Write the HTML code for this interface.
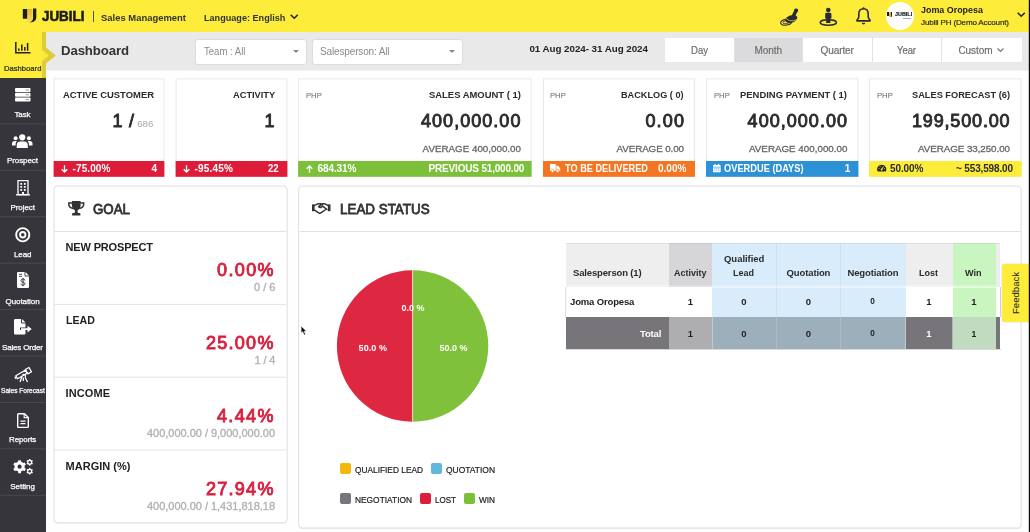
<!DOCTYPE html>
<html><head><meta charset="utf-8">
<style>
*{box-sizing:border-box;margin:0;padding:0}
html,body{width:1030px;height:532px;overflow:hidden;background:#fefefe;font-family:"Liberation Sans",sans-serif;color:#2a2a2a}
.a{position:absolute}
svg{position:absolute;overflow:visible}
.t{position:absolute;white-space:pre;line-height:1}
.card{position:absolute;top:78px;height:99px;background:#fff;border:1px solid #ededf0}
.ft{position:absolute;top:161px;height:16px}
.panel{position:absolute;background:#fff;border:1px solid #dedee2;border-radius:4px;box-shadow:0 1px 1px rgba(0,0,0,.06)}
.sel{position:absolute;top:39px;height:25.500px;background:#fff;border:1px solid #dcdcdc;border-radius:3px}
.car{position:absolute;width:0;height:0;border-left:3px solid transparent;border-right:3px solid transparent;border-top:3.500px solid #888}
.btn{position:absolute;top:38px;height:24px;background:#fff}
.hl{position:absolute;height:1px;background:#e3e3e6}
.sep{position:absolute;left:0;width:46px;height:1px;background:#43424a}
.lg{position:absolute;width:11px;height:11px;border-radius:2px}
.c{position:absolute}
</style></head><body>
<div class="a" style="left:46px;top:31px;width:984px;height:40px;background:#f3f3f3"></div><div class="a" style="left:46px;top:31px;width:984px;height:39px;background:#e9e9e9"></div>
<div class="a" style="left:0;top:0;width:1030px;height:31.500px;background:#fdec3a"></div>
<div class="a" style="left:0;top:31px;width:46px;height:501px;background:#36353b"></div>
<!-- active nav -->
<div class="a" style="left:0;top:31px;width:46px;height:46.500px;background:#fdec3a"></div>
<div class="a" style="left:42px;top:31.500px;width:4px;height:46px;background:#dccc35"></div>
<svg style="left:41px;top:47px" width="16" height="17" viewBox="41 47 16 17"><path d="M46 47.600l9.800 7.900-9.800 8.100z" fill="#dccc35"/><path d="M41.800 49.600l7 5.900-7 5.900z" fill="#fae93a"/></svg>
<!-- sidebar separators -->
<svg style="left:0;top:0" width="46" height="532" viewBox="0 0 46 532"><path d="M0 123.86h46M0 170.29h46M0 216.72h46M0 263.15h46M0 309.58h46M0 356.01h46M0 402.44h46M0 448.87h46M0 495.30h46" stroke="#4a4950" stroke-width="1" fill="none"/></svg>

<!-- logo -->
<svg style="left:22px;top:8px" width="15" height="15" viewBox="0 0 15 15"><defs><linearGradient id="g" x1="0" y1="0" x2="0" y2="1"><stop offset="0" stop-color="#e9b030"/><stop offset="1" stop-color="#f6dc5a"/></linearGradient></defs><rect x="0.800" y="1" width="4.600" height="9.800" rx="0.600" fill="#1d1d24"/><path d="M5.400 1h5v9.500a3.500 3.500 0 0 1-3.500 3.500h-3.500c1.500-.5 2-1.500 2-3z" fill="url(#g)"/><path d="M11 .6h3.300v9a4.600 4.600 0 0 1-4.600 4.600h-2.500c2.800-.6 3.800-2 3.800-4.500z" fill="#1d1d24"/></svg>
<div class="a" style="left:92.500px;top:11px;width:1px;height:10.500px;background:#555"></div>
<svg style="left:289.500px;top:14.200px" width="8.500" height="5.500" viewBox="0 0 8.500 5.500"><path d="M0.700 0.700l3.550 3.600 3.550-3.600" fill="none" stroke="#222" stroke-width="1.500"/></svg>
<svg style="left:1017px;top:11.700px" width="8.500" height="5.500" viewBox="0 0 8.500 5.500"><path d="M0.700 0.700l3.550 3.600 3.550-3.600" fill="none" stroke="#222" stroke-width="1.500"/></svg>
<!-- stamp -->
<svg style="left:780px;top:8px" width="19" height="18" viewBox="0 0 19 18"><ellipse cx="6.200" cy="14.200" rx="5.600" ry="2.900" fill="none" stroke="#2a2a33" stroke-width="1.100" transform="rotate(-10 6.200 14.200)"/><ellipse cx="6.200" cy="14.200" rx="3.400" ry="1.500" fill="none" stroke="#2a2a33" stroke-width="0.800" transform="rotate(-10 6.200 14.200)"/><circle cx="16.100" cy="2.500" r="2" fill="#2a2a33"/><path d="M16.100 2.500l-3 6" stroke="#2a2a33" stroke-width="3.400" stroke-linecap="round"/><ellipse cx="11.300" cy="10.900" rx="6.200" ry="3.700" fill="#2a2a33" transform="rotate(-18 11.300 10.900)"/><path d="M6 10.300c2.300 2.600 6.500 3.300 10.600 1.200" fill="none" stroke="#fdec3a" stroke-width="0.700"/></svg>
<!-- person pin -->
<svg style="left:818.500px;top:7px" width="19" height="19" viewBox="0 0 19 19"><ellipse cx="9.300" cy="15.500" rx="8.200" ry="2.700" fill="none" stroke="#2a2a33" stroke-width="1.400"/><circle cx="9.300" cy="3" r="2.300" fill="#2a2a33"/><path d="M6.200 7.200a1.400 1.400 0 0 1 1.400-1.400h3.400a1.400 1.400 0 0 1 1.400 1.400v4.300h-1v4.500h-4.200v-4.500h-1z" fill="#2a2a33"/></svg>
<!-- bell -->
<svg style="left:855.500px;top:7px" width="15" height="18.500" viewBox="0 0 15 18.500"><path d="M7.500 1.800c-3 0-4.700 2.300-4.700 5.200v2.800c0 1.300-.7 2.200-1.800 3.200v.9h13v-.9c-1.100-1-1.800-1.900-1.800-3.200v-2.800c0-2.900-1.700-5.200-4.700-5.200z" fill="none" stroke="#2a2a33" stroke-width="1.600" stroke-linejoin="round"/><circle cx="7.500" cy="1.200" r="1" fill="#2a2a33"/><path d="M5.800 15.800h3.400a1.700 1.700 0 0 1-3.400 0z" fill="#2a2a33"/></svg>
<!-- avatar -->
<div class="a" style="left:885.500px;top:1.500px;width:28px;height:28px;border-radius:50%;background:#fff"></div>
<div class="a" style="left:887px;top:11.800px;width:1.900px;height:4.400px;background:#1d1d24"></div>
<div class="a" style="left:889px;top:11.800px;width:1.800px;height:5.700px;background:#e8b634;border-radius:0 0 0 1px"></div>
<div class="a" style="left:890.900px;top:11.600px;width:1.600px;height:5.900px;background:#1d1d24;border-radius:0 0 1.500px 0"></div>
<div class="a" style="left:903.300px;top:18.200px;width:8.200px;height:0.900px;background:#aaa"></div>

<!-- header controls -->
<div class="sel" style="left:195px;width:111.500px"><div class="car" style="left:97px;top:9.500px"></div></div>
<div class="sel" style="left:312px;width:150.500px"><div class="car" style="left:136px;top:9.500px"></div></div>
<div class="btn" style="left:665px;width:356.500px"></div>
<div class="btn" style="left:734px;width:68px;background:#dbdbdd"></div>
<div class="a" style="left:733.500px;top:38px;width:1px;height:24px;background:#e2e2e2"></div>
<div class="a" style="left:802px;top:38px;width:1px;height:24px;background:#e2e2e2"></div>
<div class="a" style="left:872px;top:38px;width:1px;height:24px;background:#e2e2e2"></div>
<div class="a" style="left:941px;top:38px;width:1px;height:24px;background:#e2e2e2"></div>
<svg style="left:997.200px;top:48px" width="7" height="4.500" viewBox="0 0 7 4.500"><path d="M0.500 0.500l3 3 3-3" fill="none" stroke="#777" stroke-width="1.200"/></svg>

<!-- nav icons -->
<svg style="left:15px;top:42px" width="15.500" height="12" viewBox="0 0 15.500 12"><path d="M0.800 0v10.800h14.700" fill="none" stroke="#222" stroke-width="1.500"/><path d="M3.800 8.800V6.500M6.800 8.800V2.500M9.800 8.800V5M12.600 8.800V1" stroke="#222" stroke-width="1.500"/></svg>
<!-- task -->
<svg style="left:15px;top:87.500px" width="15.500" height="13.500" viewBox="0 0 15.500 13.500"><g fill="#fff"><rect x="0" y="0" width="15.500" height="3.900" rx="0.900"/><rect x="0" y="4.800" width="15.500" height="3.900" rx="0.900"/><rect x="0" y="9.600" width="15.500" height="3.900" rx="0.900"/></g><g fill="#9a9aa0"><rect x="10.500" y="1.500" width="3.500" height="1" /><rect x="10.500" y="6.300" width="3.500" height="1"/><rect x="10.500" y="11.100" width="3.500" height="1"/></g></svg>
<!-- prospect -->
<svg style="left:12px;top:133.500px" width="20.500" height="14" viewBox="0 0 20.500 14"><g fill="#fff"><circle cx="10.250" cy="3.300" r="3.100"/><path d="M4.700 14v-2.700a3.800 3.800 0 0 1 3.800-3.800h3.500a3.800 3.800 0 0 1 3.800 3.800V14z"/><circle cx="3.600" cy="4.200" r="2"/><circle cx="16.900" cy="4.200" r="2"/><path d="M0 11.500v-1.700a2.700 2.700 0 0 1 2.700-2.700h2.300c-.9.900-1.400 2-1.400 3.500v.9z"/><path d="M20.500 11.500v-1.700a2.700 2.700 0 0 0-2.700-2.700h-2.300c.9.900 1.400 2 1.400 3.500v.9z"/></g></svg>
<!-- project -->
<svg style="left:15.500px;top:179.500px" width="14" height="15.500" viewBox="0 0 14 15.500"><path d="M2 0.700h10v14h-10z" fill="none" stroke="#fff" stroke-width="1.300"/><path d="M0 14.800h14" stroke="#fff" stroke-width="1.300"/><g fill="#fff"><rect x="4.300" y="3" width="1.800" height="1.800"/><rect x="7.900" y="3" width="1.800" height="1.800"/><rect x="4.300" y="6" width="1.800" height="1.800"/><rect x="7.900" y="6" width="1.800" height="1.800"/><rect x="4.300" y="9" width="1.800" height="1.800"/><rect x="7.900" y="9" width="1.800" height="1.800"/><rect x="6" y="12" width="2" height="2.500"/></g></svg>
<!-- lead -->
<svg style="left:15px;top:226.500px" width="15.500" height="15.500" viewBox="0 0 15.500 15.500"><circle cx="7.750" cy="7.750" r="6.600" fill="none" stroke="#fff" stroke-width="1.900"/><circle cx="7.750" cy="7.750" r="2.700" fill="none" stroke="#fff" stroke-width="1.900"/></svg>
<!-- quotation -->
<svg style="left:17px;top:272px" width="12" height="16" viewBox="0 0 12 16"><path d="M0 1.200a1.200 1.200 0 0 1 1.200-1.200h6.300v3.300a1.200 1.200 0 0 0 1.200 1.200h3.300v10.300a1.200 1.200 0 0 1-1.200 1.200h-9.600a1.200 1.200 0 0 1-1.200-1.200z" fill="#fff"/><path d="M8.400 0l3.600 3.600h-3.600z" fill="#fff"/><path d="M2 2.300h3M2 4.300h3" stroke="#36353b" stroke-width="0.900"/><path d="M8 8.600c0-1-.9-1.600-2-1.600s-2 .6-2 1.600 1 1.300 2 1.500 2 .6 2 1.600-.9 1.600-2 1.600-2-.6-2-1.600M6 5.900v8.200" fill="none" stroke="#36353b" stroke-width="1"/></svg>
<!-- sales order -->
<svg style="left:14px;top:319px" width="18" height="15.500" viewBox="0 0 18 15.500"><path d="M0 1.200a1.200 1.200 0 0 1 1.200-1.200h5.800v3.300a1.200 1.200 0 0 0 1.200 1.200h3.300v4h-5.500v2.600h5.500v3.200a1.200 1.200 0 0 1-1.200 1.200h-9.100a1.200 1.200 0 0 1-1.200-1.200z" fill="#fff"/><path d="M8 0l3.500 3.500h-3.500z" fill="#fff"/><path d="M7 9.200h6.500v-2.400l4.200 3.300-4.200 3.300v-2.400h-6.500z" fill="#fff"/></svg>
<!-- telescope -->
<svg style="left:14px;top:367px" width="18" height="15.500" viewBox="0 0 18 15.500"><g fill="none" stroke="#fff" stroke-width="1.300" stroke-linejoin="round"><path d="M1.800 9.200l9.700-5.600 1.700 3-9.700 5.600z" transform="translate(0 -0.500)"/><path d="M11.300 2.500l3.700-2 2.500 4.300-3.700 2.100z"/><path d="M0.800 9.600l1.300 2.300"/><path d="M8.500 7.800c2-1.200 4 .8 2.600 2.500M8 9.500l-2 5.500M11 10.200l2.500 4.800M9.300 10.500v3.500"/></g></svg>
<!-- reports -->
<svg style="left:17px;top:412.500px" width="12" height="15" viewBox="0 0 12 15"><path d="M0.700 1.600a.9.900 0 0 1 .9-.9h5.900l3.800 3.800v9a.9.900 0 0 1-.9.900h-8.800a.9.900 0 0 1-.9-.9z" fill="none" stroke="#fff" stroke-width="1.400" stroke-linejoin="round"/><path d="M7.200 0.900v3.800h3.900" fill="none" stroke="#fff" stroke-width="1.200"/><path d="M3.500 8.200h5M3.500 10.600h5" stroke="#fff" stroke-width="1.300"/></svg>
<!-- settings -->
<svg style="left:12.500px;top:458.500px" width="20.500" height="15.500" viewBox="0 0 20.500 15.500"><g transform="translate(6.600 7.700)"><circle r="3.600" fill="none" stroke="#fff" stroke-width="3"/><g fill="#fff"><rect x="-1.400" y="-6.500" width="2.800" height="13" rx="0.500"/><rect x="-1.400" y="-6.500" width="2.800" height="13" rx="0.500" transform="rotate(60)"/><rect x="-1.400" y="-6.500" width="2.800" height="13" rx="0.500" transform="rotate(120)"/></g><circle r="2.100" fill="#36353b"/></g><g transform="translate(16.700 3.300)"><circle r="1.900" fill="none" stroke="#fff" stroke-width="1.300"/><g fill="#fff"><rect x="-0.700" y="-3.300" width="1.400" height="6.600"/><rect x="-0.700" y="-3.300" width="1.400" height="6.600" transform="rotate(60)"/><rect x="-0.700" y="-3.300" width="1.400" height="6.600" transform="rotate(120)"/></g><circle r="1.200" fill="#36353b"/></g><g transform="translate(16.700 12.200)"><circle r="1.900" fill="none" stroke="#fff" stroke-width="1.300"/><g fill="#fff"><rect x="-0.700" y="-3.300" width="1.400" height="6.600"/><rect x="-0.700" y="-3.300" width="1.400" height="6.600" transform="rotate(60)"/><rect x="-0.700" y="-3.300" width="1.400" height="6.600" transform="rotate(120)"/></g><circle r="1.200" fill="#36353b"/></g></svg>

<!-- cards -->
<svg style="left:0;top:0" width="1030" height="532" viewBox="0 0 1030 532"><rect x="54.1" y="78.9" width="109.8" height="97.400" fill="#fff" stroke="#e8e8ed" stroke-width="1"/><rect x="53.6" y="161" width="110.8" height="15.800" fill="#de1c3a"/><rect x="176.1" y="78.9" width="110.8" height="97.400" fill="#fff" stroke="#e8e8ed" stroke-width="1"/><rect x="175.6" y="161" width="111.8" height="15.800" fill="#de1c3a"/><rect x="298.6" y="78.9" width="232.5" height="97.400" fill="#fff" stroke="#e8e8ed" stroke-width="1"/><rect x="298.1" y="161" width="233.5" height="15.800" fill="#7cc03a"/><rect x="543.5" y="78.9" width="151.0" height="97.400" fill="#fff" stroke="#e8e8ed" stroke-width="1"/><rect x="543.0" y="161" width="152.0" height="15.800" fill="#f47522"/><rect x="706.5" y="78.9" width="151.4" height="97.400" fill="#fff" stroke="#e8e8ed" stroke-width="1"/><rect x="706.0" y="161" width="152.4" height="15.800" fill="#2d91d5"/><rect x="869.5" y="78.9" width="151.6" height="97.400" fill="#fff" stroke="#e8e8ed" stroke-width="1"/><rect x="869.0" y="161" width="152.6" height="15.800" fill="#fdec3a"/></svg>
<!-- footer icons -->
<svg style="left:61px;top:164.800px" width="7" height="8" viewBox="0 0 7 8"><path d="M3.500 0.300v6.500M0.700 4.200l2.800 2.800 2.800-2.800" fill="none" stroke="#fff" stroke-width="1.300"/></svg>
<svg style="left:183px;top:164.800px" width="7" height="8" viewBox="0 0 7 8"><path d="M3.500 0.300v6.500M0.700 4.200l2.800 2.800 2.800-2.800" fill="none" stroke="#fff" stroke-width="1.300"/></svg>
<svg style="left:306px;top:164.800px" width="7" height="8" viewBox="0 0 7 8"><path d="M3.500 7.700v-6.500M0.700 3.800l2.800-2.800 2.800 2.800" fill="none" stroke="#fff" stroke-width="1.300"/></svg>
<!-- truck -->
<svg style="left:550.400px;top:164.200px" width="10.200" height="8.600" viewBox="0 0 10.500 8" preserveAspectRatio="none"><path d="M0 0.600a.6.600 0 0 1 .6-.6h5.600v1.700h2l2.300 2.300v2.500h-10.500z" fill="#fff"/><circle cx="2.600" cy="6.500" r="1.500" fill="#fff" stroke="#f47522" stroke-width="0.600"/><circle cx="7.900" cy="6.500" r="1.500" fill="#fff" stroke="#f47522" stroke-width="0.600"/><path d="M6.200 0v6" stroke="#f47522" stroke-width="0.500"/></svg>
<!-- calendar -->
<svg style="left:713.200px;top:164.200px" width="7.700" height="8.300" viewBox="0 0 7.200 8.400" preserveAspectRatio="none"><rect x="0" y="1" width="7.200" height="7.400" rx="0.800" fill="#fff"/><rect x="1.400" y="0" width="1.100" height="2" fill="#fff"/><rect x="4.700" y="0" width="1.100" height="2" fill="#fff"/><path d="M0 3.200h7.200" stroke="#2d91d5" stroke-width="0.600"/><path d="M1.200 4.700h4.800M1.200 6.300h4.800" stroke="#2d91d5" stroke-width="0.700" stroke-dasharray="1 0.900"/></svg>
<!-- gauge -->
<svg style="left:876.800px;top:164.400px" width="9.400" height="8" viewBox="0 0 9.400 8"><path d="M0.700 7.500a4.600 4.600 0 1 1 8 0z" fill="#2b2b2b"/><path d="M4.700 5.500l1.800-3" stroke="#fdec3a" stroke-width="0.900"/><circle cx="4.700" cy="5.500" r="1" fill="#fdec3a"/><circle cx="2" cy="4.500" r="0.500" fill="#fdec3a"/><circle cx="3" cy="2.500" r="0.500" fill="#fdec3a"/><circle cx="7.400" cy="4.500" r="0.500" fill="#fdec3a"/></svg>

<!-- panels -->
<svg style="left:0;top:0" width="1030" height="532" viewBox="0 0 1030 532">
<rect x="54" y="187.200" width="233.200" height="336.600" rx="3.500" fill="#eeeef1"/>
<rect x="298.600" y="187.200" width="722.500" height="341.900" rx="3.500" fill="#eeeef1"/>
<rect x="54" y="186.100" width="233.200" height="336.600" rx="3.500" fill="#fff" stroke="#dfdfe4" stroke-width="1"/>
<rect x="298.600" y="186.100" width="722.500" height="341.900" rx="3.500" fill="#fff" stroke="#dfdfe4" stroke-width="1"/>
<g stroke="#e1e1e5" stroke-width="1"><path d="M54.600 231.500h231.800M54.600 304.400h231.800M54.600 377.200h231.800M54.600 450h231.800M299.400 231.500h721.200"/></g>
</svg>
<!-- trophy -->
<svg style="left:67.500px;top:201px" width="16.500" height="14.500" viewBox="0 0 16.500 14.500"><path d="M3.900 0h8.700v4c0 3.200-1.800 5.400-4.350 5.400s-4.350-2.200-4.350-5.400z" fill="#333"/><path d="M4.300 2.100h-3.500v1.200c0 2.100 1.700 3.700 4.400 4.100M12.200 2.100h3.500v1.200c0 2.100-1.700 3.700-4.400 4.100" fill="none" stroke="#333" stroke-width="1.500"/><path d="M6.900 8.500h2.700v2.700l1 1h-4.700l1-1z" fill="#333"/><path d="M4.100 14.500v-1.600a.8.800 0 0 1 .8-.8h6.700a.8.800 0 0 1 .8.800v1.600z" fill="#333"/></svg>
<!-- handshake -->
<svg style="left:312px;top:203px" width="18.500" height="10.500" viewBox="0 0 18.500 10.500"><rect x="0" y="1.400" width="2.600" height="6.800" fill="#333"/><rect x="15.900" y="1.400" width="2.600" height="6.800" fill="#333"/><g fill="none" stroke="#333" stroke-width="1.500" stroke-linejoin="round" stroke-linecap="round"><path d="M2.600 2.400l3.200-1.600h3.200l1.400.7M15.900 2.400l-3-1.600h-2.500l-3.800 2.800c.8 1 2 1 3 .2l1-.7 4.300 3.400M2.600 7.200l3.700 2.500c1 .7 2.100.6 2.900 0l5.200-3.700"/></g></svg>
<!-- pie -->
<svg style="left:336px;top:270px" width="153" height="153" viewBox="336 270 153 153"><path d="M412.600 270.300a75.700 75.700 0 0 0 0 151.400z" fill="#de2841"/><path d="M412.600 270.300a75.700 75.700 0 0 1 0 151.400z" fill="#80c13c"/><path d="M412.600 270.300v151.400" stroke="#f6ddd6" stroke-width="0.900"/></svg>
<!-- legend -->
<div class="lg" style="left:339.500px;top:462.600px;background:#f5b70e"></div>
<div class="lg" style="left:431px;top:462.600px;background:#62b8d8"></div>
<div class="lg" style="left:339.500px;top:493.200px;background:#77767b"></div>
<div class="lg" style="left:419.700px;top:493.200px;background:#dc1f3a"></div>
<div class="lg" style="left:464.200px;top:493.200px;background:#7cc03a"></div>
<!-- table cells -->
<div class="c" style="left:565.500px;top:243.400px;width:104px;height:44px;background:#eeeeef"></div>
<div class="c" style="left:669.200px;top:243.400px;width:43px;height:44px;background:#d6d5d7"></div>
<div class="c" style="left:712px;top:243.400px;width:193.600px;height:74px;background:#d8ecfc"></div>
<div class="c" style="left:905.600px;top:243.400px;width:47px;height:44px;background:#eeeeef"></div>
<div class="c" style="left:952.600px;top:243.400px;width:43px;height:74px;background:#c9f5c0"></div>
<div class="c" style="left:995.600px;top:243.400px;width:4.800px;height:44px;background:#eeeeef"></div>
<div class="c" style="left:999.600px;top:287px;width:0.800px;height:30px;background:#d0d0d0"></div>
<div class="c" style="left:565.500px;top:287px;width:430px;height:0.800px;background:rgba(255,255,255,.55)"></div>
<div class="c" style="left:565.500px;top:317.400px;width:103.700px;height:32px;background:#77757a"></div>
<div class="c" style="left:669.200px;top:317.400px;width:42.800px;height:32px;background:#aeadaf"></div>
<div class="c" style="left:712px;top:317.400px;width:193.600px;height:32px;background:#9eafbc"></div>
<div class="c" style="left:905.600px;top:317.400px;width:47px;height:32px;background:#77757a"></div>
<div class="c" style="left:952.600px;top:317.400px;width:43px;height:32px;background:#c0dbc0"></div>
<div class="c" style="left:995.600px;top:317.400px;width:4.800px;height:32px;background:#77757a"></div>
<div class="c" style="left:775.800px;top:243.400px;width:0.800px;height:106px;background:rgba(200,205,210,.38)"></div>
<div class="c" style="left:840.400px;top:243.400px;width:0.800px;height:106px;background:rgba(200,205,210,.38)"></div>
<div class="c" style="left:711.600px;top:317.400px;width:0.800px;height:32px;background:rgba(220,220,220,.6)"></div>
<div class="c" style="left:905.200px;top:317.400px;width:0.800px;height:32px;background:rgba(220,220,220,.6)"></div>
<div class="c" style="left:952.200px;top:317.400px;width:0.800px;height:32px;background:rgba(220,220,220,.6)"></div>
<div class="c" style="left:565.500px;top:349px;width:435px;height:1px;background:#d9d9d9"></div>
<div class="c" style="left:565px;top:287px;width:1px;height:30.400px;background:#dedede"></div>
<div class="c" style="left:565px;top:243px;width:435.400px;height:1px;background:rgba(0,0,0,.05)"></div>
<div class="c" style="left:565.500px;top:284.500px;width:430px;height:2.500px;background:rgba(255,255,255,.3)"></div>
<!-- feedback -->
<div class="a" style="left:1002px;top:263.600px;width:30px;height:58px;background:#fdec3a;border-radius:3px 0 0 3px;box-shadow:0 0 1.500px rgba(0,0,0,.25)"></div>
<div class="t" style="left:1015.800px;top:292.500px;font-size:9.600px;color:#222;transform:translate(-50%,-50%) rotate(-90deg);letter-spacing:0px">Feedback</div>
<svg style="left:1026px;top:0" width="4" height="532" viewBox="1026 0 4 532"><rect x="1028.800" y="0" width="1.400" height="532" fill="#0a0a0a"/></svg>
<!-- cursor -->
<svg style="left:301px;top:325.700px" width="6" height="11" viewBox="0 0 6 11"><path d="M0.200 0.200v6.900l1.600-1.500 1.400 3.400 1.200-.5-1.400-3.300h2.300z" fill="#111" stroke="#fff" stroke-width="0.350"/></svg>
<div style="position:absolute;left:0;top:0;width:1030px;height:532px;will-change:transform"><div class="t" style="left:42.30px;top:9.00px;font-size:14px;font-weight:bold;color:#1d1d24;letter-spacing:0.000px;transform:scaleX(0.9562);transform-origin:0 0;-webkit-text-stroke:0.6px #1d1d24;">JUBILI</div>
<div class="t" style="left:101.00px;top:12.60px;font-size:9.8px;font-weight:bold;color:#333;letter-spacing:0.000px;transform:scaleX(0.9635);transform-origin:0 0;">Sales Management</div>
<div class="t" style="left:203.60px;top:12.70px;font-size:9.6px;font-weight:bold;color:#333;letter-spacing:0.000px;transform:scaleX(0.9484);transform-origin:0 0;">Language: English</div>
<div class="t" style="left:921.10px;top:4.80px;font-size:9.4px;font-weight:bold;color:#222;letter-spacing:0.000px;transform:scaleX(0.9503);transform-origin:0 0;">Joma Oropesa</div>
<div class="t" style="left:921.10px;top:19.45px;font-size:8.1px;font-weight:normal;color:#222;letter-spacing:-0.188px;-webkit-text-stroke:0.15px #222;">Jubili PH (Demo Account)</div>
<div class="t" style="left:894.60px;top:11.40px;font-size:6.2px;font-weight:bold;color:#1d1d24;letter-spacing:0.000px;transform:scaleX(0.8771);transform-origin:0 0;-webkit-text-stroke:0.2px #1d1d24;">JUBILI</div>
<div class="t" style="left:61.00px;top:43.90px;font-size:13.2px;font-weight:bold;color:#333;letter-spacing:-0.111px;">Dashboard</div>
<div class="t" style="left:203.60px;top:46.50px;font-size:10px;font-weight:normal;color:#8a8a8a;letter-spacing:0.000px;transform:scaleX(0.9548);transform-origin:0 0;">Team : All</div>
<div class="t" style="left:320.00px;top:46.50px;font-size:10px;font-weight:normal;color:#8a8a8a;letter-spacing:-0.141px;">Salesperson: All</div>
<div class="t" style="left:529.40px;top:43.60px;font-size:9.8px;font-weight:bold;color:#222;letter-spacing:-0.045px;">01 Aug 2024- 31 Aug 2024</div>
<div class="t" style="left:690.60px;top:45.50px;font-size:10px;font-weight:normal;color:#6e6e6e;letter-spacing:0.000px;transform:scaleX(0.9552);transform-origin:0 0;-webkit-text-stroke:0.2px #6e6e6e;">Day</div>
<div class="t" style="left:754.40px;top:45.50px;font-size:10px;font-weight:normal;color:#6e6e6e;letter-spacing:-0.049px;-webkit-text-stroke:0.2px #6e6e6e;">Month</div>
<div class="t" style="left:820.50px;top:45.50px;font-size:10px;font-weight:normal;color:#6e6e6e;letter-spacing:-0.084px;-webkit-text-stroke:0.2px #6e6e6e;">Quarter</div>
<div class="t" style="left:896.80px;top:45.50px;font-size:10px;font-weight:normal;color:#6e6e6e;letter-spacing:0.000px;transform:scaleX(0.9397);transform-origin:0 0;-webkit-text-stroke:0.2px #6e6e6e;">Year</div>
<div class="t" style="left:958.40px;top:45.50px;font-size:10px;font-weight:normal;color:#6e6e6e;letter-spacing:-0.031px;-webkit-text-stroke:0.2px #6e6e6e;">Custom</div>
<div class="t" style="left:3.80px;top:64.50px;font-size:8px;font-weight:normal;color:#222;letter-spacing:0.000px;transform:scaleX(0.9555);transform-origin:0 0;-webkit-text-stroke:0.2px #222;">Dashboard</div>
<div class="t" style="left:14.50px;top:110.50px;font-size:8px;font-weight:normal;color:#fff;letter-spacing:-0.151px;-webkit-text-stroke:0.25px #fff;">Task</div>
<div class="t" style="left:7.00px;top:156.50px;font-size:8px;font-weight:normal;color:#fff;letter-spacing:-0.083px;-webkit-text-stroke:0.25px #fff;">Prospect</div>
<div class="t" style="left:10.40px;top:203.50px;font-size:8px;font-weight:normal;color:#fff;letter-spacing:-0.051px;-webkit-text-stroke:0.25px #fff;">Project</div>
<div class="t" style="left:14.00px;top:250.50px;font-size:8px;font-weight:normal;color:#fff;letter-spacing:-0.132px;-webkit-text-stroke:0.25px #fff;">Lead</div>
<div class="t" style="left:5.60px;top:297.50px;font-size:8px;font-weight:normal;color:#fff;letter-spacing:-0.088px;-webkit-text-stroke:0.25px #fff;">Quotation</div>
<div class="t" style="left:2.00px;top:343.50px;font-size:8px;font-weight:normal;color:#fff;letter-spacing:-0.169px;-webkit-text-stroke:0.25px #fff;">Sales Order</div>
<div class="t" style="left:0.60px;top:387.00px;font-size:7px;font-weight:normal;color:#fff;letter-spacing:0.000px;transform:scaleX(0.9382);transform-origin:0 0;-webkit-text-stroke:0.25px #fff;">Sales Forecast</div>
<div class="t" style="left:9.00px;top:435.50px;font-size:8px;font-weight:normal;color:#fff;letter-spacing:-0.119px;-webkit-text-stroke:0.25px #fff;">Reports</div>
<div class="t" style="left:10.20px;top:482.50px;font-size:8px;font-weight:normal;color:#fff;letter-spacing:-0.018px;-webkit-text-stroke:0.25px #fff;">Setting</div>
<div class="t" style="left:62.60px;top:89.60px;font-size:9.8px;font-weight:bold;color:#2b2b2b;letter-spacing:0.000px;transform:scaleX(0.9626);transform-origin:0 0;">ACTIVE CUSTOMER</div>
<div class="t" style="left:112.40px;top:112.00px;font-size:18px;font-weight:normal;color:#2b2b2b;letter-spacing:0.792px;-webkit-text-stroke:0.9px #2b2b2b;">1 /</div>
<div class="t" style="left:137.20px;top:118.65px;font-size:9.7px;font-weight:normal;color:#aaa;letter-spacing:0.014px;">686</div>
<div class="t" style="left:72.60px;top:163.50px;font-size:10px;font-weight:bold;color:#fff;letter-spacing:0.092px;">-75.00%</div>
<div class="t" style="left:151.52px;top:163.50px;font-size:10px;font-weight:bold;color:#fff;letter-spacing:0.000px;">4</div>
<div class="t" style="left:233.40px;top:89.60px;font-size:9.8px;font-weight:bold;color:#2b2b2b;letter-spacing:0.000px;transform:scaleX(0.9453);transform-origin:0 0;">ACTIVITY</div>
<div class="t" style="left:264.59px;top:112.00px;font-size:18px;font-weight:normal;color:#2b2b2b;letter-spacing:0.000px;-webkit-text-stroke:0.9px #2b2b2b;">1</div>
<div class="t" style="left:194.60px;top:163.50px;font-size:10px;font-weight:bold;color:#fff;letter-spacing:0.192px;">-95.45%</div>
<div class="t" style="left:268.40px;top:163.50px;font-size:10px;font-weight:bold;color:#fff;letter-spacing:0.000px;transform:scaleX(0.9528);transform-origin:0 0;">22</div>
<div class="t" style="left:305.60px;top:91.50px;font-size:8px;font-weight:normal;color:#666;letter-spacing:0.000px;transform:scaleX(0.9603);transform-origin:0 0;">PHP</div>
<div class="t" style="left:428.60px;top:89.60px;font-size:9.8px;font-weight:bold;color:#2b2b2b;letter-spacing:0.000px;transform:scaleX(0.9619);transform-origin:0 0;">SALES AMOUNT ( 1)</div>
<div class="t" style="left:421.00px;top:112.00px;font-size:18px;font-weight:normal;color:#2b2b2b;letter-spacing:1.034px;-webkit-text-stroke:0.9px #2b2b2b;">400,000.00</div>
<div class="t" style="left:422.60px;top:143.60px;font-size:9.8px;font-weight:normal;color:#666;letter-spacing:-0.000px;-webkit-text-stroke:0.3px #666;">AVERAGE 400,000.00</div>
<div class="t" style="left:317.50px;top:163.50px;font-size:10px;font-weight:bold;color:#fff;letter-spacing:-0.097px;">684.31%</div>
<div class="t" style="left:428.60px;top:163.50px;font-size:10px;font-weight:bold;color:#fff;letter-spacing:-0.185px;">PREVIOUS 51,000.00</div>
<div class="t" style="left:550.40px;top:91.50px;font-size:8px;font-weight:normal;color:#666;letter-spacing:0.000px;transform:scaleX(0.9603);transform-origin:0 0;">PHP</div>
<div class="t" style="left:621.40px;top:89.60px;font-size:9.8px;font-weight:bold;color:#2b2b2b;letter-spacing:0.000px;transform:scaleX(0.9350);transform-origin:0 0;">BACKLOG ( 0)</div>
<div class="t" style="left:645.40px;top:112.00px;font-size:18px;font-weight:normal;color:#2b2b2b;letter-spacing:1.184px;-webkit-text-stroke:0.9px #2b2b2b;">0.00</div>
<div class="t" style="left:616.60px;top:143.60px;font-size:9.8px;font-weight:normal;color:#666;letter-spacing:-0.094px;-webkit-text-stroke:0.3px #666;">AVERAGE 0.00</div>
<div class="t" style="left:565.00px;top:163.50px;font-size:10px;font-weight:bold;color:#fff;letter-spacing:0.000px;transform:scaleX(0.9182);transform-origin:0 0;">TO BE DELIVERED</div>
<div class="t" style="left:658.00px;top:163.50px;font-size:10px;font-weight:bold;color:#fff;letter-spacing:0.010px;">0.00%</div>
<div class="t" style="left:713.60px;top:91.50px;font-size:8px;font-weight:normal;color:#666;letter-spacing:0.000px;transform:scaleX(0.9603);transform-origin:0 0;">PHP</div>
<div class="t" style="left:740.00px;top:89.60px;font-size:9.8px;font-weight:bold;color:#2b2b2b;letter-spacing:0.000px;transform:scaleX(0.9636);transform-origin:0 0;">PENDING PAYMENT ( 1)</div>
<div class="t" style="left:747.60px;top:112.00px;font-size:18px;font-weight:normal;color:#2b2b2b;letter-spacing:1.034px;-webkit-text-stroke:0.9px #2b2b2b;">400,000.00</div>
<div class="t" style="left:749.00px;top:143.60px;font-size:9.8px;font-weight:normal;color:#666;letter-spacing:-0.000px;-webkit-text-stroke:0.3px #666;">AVERAGE 400,000.00</div>
<div class="t" style="left:724.40px;top:163.50px;font-size:10px;font-weight:bold;color:#fff;letter-spacing:0.000px;transform:scaleX(0.9281);transform-origin:0 0;">OVERDUE (DAYS)</div>
<div class="t" style="left:844.82px;top:163.50px;font-size:10px;font-weight:bold;color:#fff;letter-spacing:0.000px;">1</div>
<div class="t" style="left:877.00px;top:91.50px;font-size:8px;font-weight:normal;color:#666;letter-spacing:0.000px;transform:scaleX(0.9603);transform-origin:0 0;">PHP</div>
<div class="t" style="left:912.00px;top:89.60px;font-size:9.8px;font-weight:bold;color:#2b2b2b;letter-spacing:0.000px;transform:scaleX(0.9426);transform-origin:0 0;">SALES FORECAST (6)</div>
<div class="t" style="left:912.00px;top:112.00px;font-size:18px;font-weight:normal;color:#2b2b2b;letter-spacing:0.834px;-webkit-text-stroke:0.9px #2b2b2b;">199,500.00</div>
<div class="t" style="left:918.00px;top:143.60px;font-size:9.8px;font-weight:normal;color:#666;letter-spacing:-0.060px;-webkit-text-stroke:0.3px #666;">AVERAGE 33,250.00</div>
<div class="t" style="left:890.00px;top:163.50px;font-size:10px;font-weight:bold;color:#2b2b2b;letter-spacing:-0.104px;">50.00%</div>
<div class="t" style="left:956.00px;top:163.50px;font-size:10px;font-weight:bold;color:#2b2b2b;letter-spacing:-0.152px;">~ 553,598.00</div>
<div class="t" style="left:93.40px;top:202.00px;font-size:14px;font-weight:normal;color:#333;letter-spacing:0.000px;transform:scaleX(0.9510);transform-origin:0 0;-webkit-text-stroke:0.8px #333;">GOAL</div>
<div class="t" style="left:65.60px;top:241.50px;font-size:11px;font-weight:bold;color:#222;letter-spacing:-0.167px;">NEW PROSPECT</div>
<div class="t" style="left:217.00px;top:261.00px;font-size:18px;font-weight:normal;color:#d9213f;letter-spacing:1.388px;-webkit-text-stroke:0.9px #d9213f;">0.00%</div>
<div class="t" style="left:254.00px;top:281.50px;font-size:11px;font-weight:normal;color:#b2b2b2;letter-spacing:-0.002px;-webkit-text-stroke:0.35px #b2b2b2;">0 / 6</div>
<div class="t" style="left:65.60px;top:314.50px;font-size:11px;font-weight:bold;color:#222;letter-spacing:0.000px;transform:scaleX(0.9648);transform-origin:0 0;">LEAD</div>
<div class="t" style="left:206.00px;top:334.00px;font-size:18px;font-weight:normal;color:#d9213f;letter-spacing:1.267px;-webkit-text-stroke:0.9px #d9213f;">25.00%</div>
<div class="t" style="left:254.60px;top:354.50px;font-size:11px;font-weight:normal;color:#b2b2b2;letter-spacing:-0.152px;-webkit-text-stroke:0.35px #b2b2b2;">1 / 4</div>
<div class="t" style="left:65.60px;top:387.50px;font-size:11px;font-weight:bold;color:#222;letter-spacing:0.080px;">INCOME</div>
<div class="t" style="left:217.00px;top:407.00px;font-size:18px;font-weight:normal;color:#d9213f;letter-spacing:1.338px;-webkit-text-stroke:0.9px #d9213f;">4.44%</div>
<div class="t" style="left:147.00px;top:427.50px;font-size:11px;font-weight:normal;color:#b2b2b2;letter-spacing:-0.019px;-webkit-text-stroke:0.35px #b2b2b2;">400,000.00 / 9,000,000.00</div>
<div class="t" style="left:65.60px;top:460.50px;font-size:11px;font-weight:bold;color:#222;letter-spacing:0.002px;">MARGIN (%)</div>
<div class="t" style="left:206.00px;top:480.00px;font-size:18px;font-weight:normal;color:#d9213f;letter-spacing:1.267px;-webkit-text-stroke:0.9px #d9213f;">27.94%</div>
<div class="t" style="left:147.00px;top:500.50px;font-size:11px;font-weight:normal;color:#b2b2b2;letter-spacing:-0.019px;-webkit-text-stroke:0.35px #b2b2b2;">400,000.00 / 1,431,818.18</div>
<div class="t" style="left:340.00px;top:202.00px;font-size:14px;font-weight:normal;color:#333;letter-spacing:0.000px;transform:scaleX(0.9570);transform-origin:0 0;-webkit-text-stroke:0.8px #333;">LEAD STATUS</div>
<div class="t" style="left:401.40px;top:303.50px;font-size:9px;font-weight:bold;color:#fff;letter-spacing:-0.004px;">0.0 %</div>
<div class="t" style="left:358.60px;top:343.50px;font-size:9px;font-weight:bold;color:#fff;letter-spacing:0.074px;">50.0 %</div>
<div class="t" style="left:439.40px;top:343.50px;font-size:9px;font-weight:bold;color:#fff;letter-spacing:-0.006px;">50.0 %</div>
<div class="t" style="left:355.00px;top:465.60px;font-size:8.8px;font-weight:normal;color:#222;letter-spacing:0.000px;transform:scaleX(0.9461);transform-origin:0 0;-webkit-text-stroke:0.2px #222;">QUALIFIED LEAD</div>
<div class="t" style="left:446.00px;top:465.60px;font-size:8.8px;font-weight:normal;color:#222;letter-spacing:0.000px;transform:scaleX(0.9608);transform-origin:0 0;-webkit-text-stroke:0.2px #222;">QUOTATION</div>
<div class="t" style="left:355.00px;top:495.60px;font-size:8.8px;font-weight:normal;color:#222;letter-spacing:0.000px;transform:scaleX(0.9507);transform-origin:0 0;-webkit-text-stroke:0.2px #222;">NEGOTIATION</div>
<div class="t" style="left:435.00px;top:495.60px;font-size:8.8px;font-weight:normal;color:#222;letter-spacing:0.000px;transform:scaleX(0.9137);transform-origin:0 0;-webkit-text-stroke:0.2px #222;">LOST</div>
<div class="t" style="left:479.00px;top:495.60px;font-size:8.8px;font-weight:normal;color:#222;letter-spacing:0.000px;transform:scaleX(0.9352);transform-origin:0 0;-webkit-text-stroke:0.2px #222;">WIN</div>
<div class="t" style="left:573.00px;top:267.75px;font-size:9.5px;font-weight:bold;color:#2b2b2b;letter-spacing:-0.154px;">Salesperson (1)</div>
<div class="t" style="left:674.00px;top:267.75px;font-size:9.5px;font-weight:bold;color:#2b2b2b;letter-spacing:0.000px;transform:scaleX(0.9438);transform-origin:0 0;">Activity</div>
<div class="t" style="left:724.00px;top:253.75px;font-size:9.5px;font-weight:bold;color:#2b2b2b;letter-spacing:-0.032px;">Qualified</div>
<div class="t" style="left:733.40px;top:267.75px;font-size:9.5px;font-weight:bold;color:#2b2b2b;letter-spacing:0.000px;transform:scaleX(0.9465);transform-origin:0 0;">Lead</div>
<div class="t" style="left:786.60px;top:267.75px;font-size:9.5px;font-weight:bold;color:#2b2b2b;letter-spacing:-0.132px;">Quotation</div>
<div class="t" style="left:847.40px;top:267.75px;font-size:9.5px;font-weight:bold;color:#2b2b2b;letter-spacing:-0.105px;">Negotiation</div>
<div class="t" style="left:919.40px;top:267.75px;font-size:9.5px;font-weight:bold;color:#2b2b2b;letter-spacing:0.000px;transform:scaleX(0.9470);transform-origin:0 0;">Lost</div>
<div class="t" style="left:965.40px;top:267.75px;font-size:9.5px;font-weight:bold;color:#2b2b2b;letter-spacing:0.000px;transform:scaleX(0.9580);transform-origin:0 0;">Win</div>
<div class="t" style="left:570.00px;top:296.75px;font-size:9.5px;font-weight:bold;color:#222;letter-spacing:-0.145px;">Joma Oropesa</div>
<div class="t" style="left:640.00px;top:328.75px;font-size:9.5px;font-weight:bold;color:#fff;letter-spacing:-0.150px;">Total</div>
<div class="t" style="left:687.75px;top:296.75px;font-size:9.5px;font-weight:bold;color:#222;letter-spacing:0.000px;">1</div>
<div class="t" style="left:741.35px;top:296.75px;font-size:9.5px;font-weight:bold;color:#222;letter-spacing:0.000px;">0</div>
<div class="t" style="left:805.75px;top:296.75px;font-size:9.5px;font-weight:bold;color:#222;letter-spacing:0.000px;">0</div>
<div class="t" style="left:870.32px;top:298.40px;font-size:8.2px;font-weight:bold;color:#222;letter-spacing:0.000px;">0</div>
<div class="t" style="left:926.35px;top:296.75px;font-size:9.5px;font-weight:bold;color:#222;letter-spacing:0.000px;">1</div>
<div class="t" style="left:971.35px;top:296.75px;font-size:9.5px;font-weight:bold;color:#222;letter-spacing:0.000px;">1</div>
<div class="t" style="left:687.75px;top:328.75px;font-size:9.5px;font-weight:bold;color:#222;letter-spacing:0.000px;">1</div>
<div class="t" style="left:741.35px;top:328.75px;font-size:9.5px;font-weight:bold;color:#222;letter-spacing:0.000px;">0</div>
<div class="t" style="left:805.75px;top:328.75px;font-size:9.5px;font-weight:bold;color:#222;letter-spacing:0.000px;">0</div>
<div class="t" style="left:870.32px;top:330.40px;font-size:8.2px;font-weight:bold;color:#222;letter-spacing:0.000px;">0</div>
<div class="t" style="left:926.35px;top:328.75px;font-size:9.5px;font-weight:bold;color:#fff;letter-spacing:0.000px;">1</div>
<div class="t" style="left:971.61px;top:329.70px;font-size:8.6px;font-weight:bold;color:#222;letter-spacing:0.000px;">1</div></div>
</body></html>
